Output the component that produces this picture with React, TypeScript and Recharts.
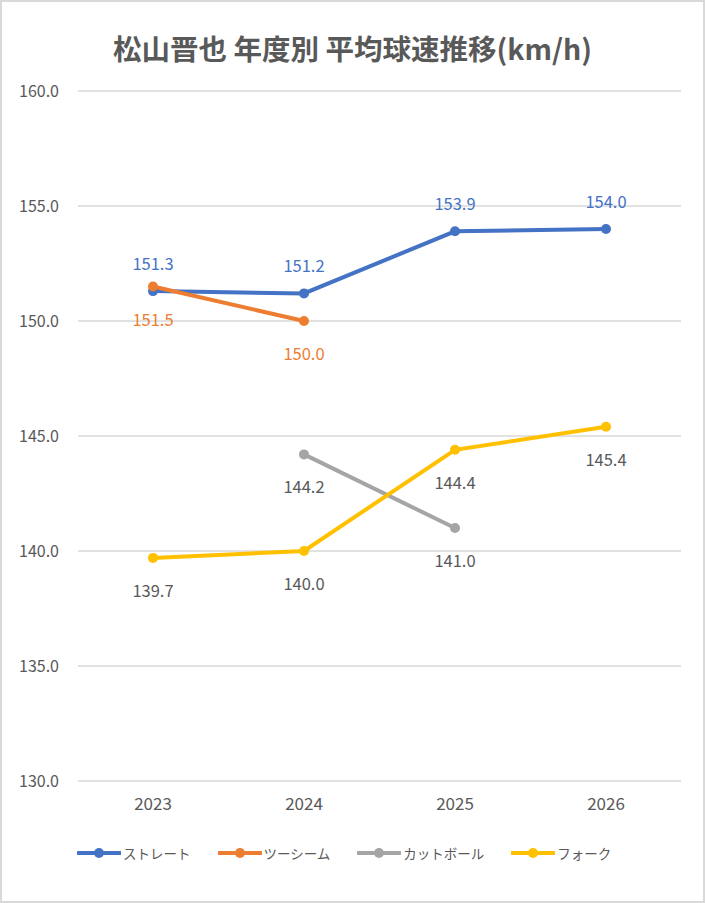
import React from "react";
import {
  LineChart,
  Line,
  XAxis,
  YAxis,
  CartesianGrid,
  LabelList,
  Legend,
} from "recharts";

const YEARS = ["2023", "2024", "2025", "2026"];
const STRAIGHT = [151.3, 151.2, 153.9, 154.0];
const TWO_SEAM = [151.5, 150.0, null, null];
const CUTTER = [null, 144.2, 141.0, null];
const FORK = [139.7, 140.0, 144.4, 145.4];
const Y_TICKS = [130, 135, 140, 145, 150, 155, 160];

const SERIES = [
  { key: "straight", name: "ストレート", color: "#4472C4", labelColor: "#4472C4", pos: "top" },
  { key: "twoSeam", name: "ツーシーム", color: "#ED7D31", labelColor: "#ED7D31", pos: "bottom" },
  { key: "cutter", name: "カットボール", color: "#A5A5A5", labelColor: "#595959", pos: "bottom" },
  { key: "fork", name: "フォーク", color: "#FFC000", labelColor: "#595959", pos: "bottom" },
];

const data = YEARS.map((year, i) => ({
  year,
  straight: STRAIGHT[i],
  twoSeam: TWO_SEAM[i],
  cutter: CUTTER[i],
  fork: FORK[i],
}));

const FONT = '"Noto Sans CJK JP", "Noto Sans", sans-serif';

function makeLabel(color: string, pos: string) {
  return (props: any) => {
    const { x, y, value } = props;
    if (value == null) return null;
    const ty = pos === "top" ? y - 28 : y + 32;
    return (
      <text
        x={x}
        y={ty}
        textAnchor="middle"
        dominantBaseline="central"
        fill={color}
        fontSize={16.5}
        fontFamily={FONT}
      >
        {Number(value).toFixed(1)}
      </text>
    );
  };
}

function LegendContent() {
  return (
    <div style={{ display: "flex", gap: 27, fontFamily: FONT, fontSize: 13.5, color: "#595959" }}>
      {SERIES.map((s) => (
        <div key={s.key} style={{ display: "flex", alignItems: "center" }}>
          <svg width={44} height={12}>
            <line x1={1} y1={6} x2={43} y2={6} stroke={s.color} strokeWidth={4} strokeLinecap="round" />
            <circle cx={22} cy={6} r={5} fill={s.color} />
          </svg>
          <span style={{ marginLeft: 2 }}>{s.name}</span>
        </div>
      ))}
    </div>
  );
}

export default function App() {
  return (
    <div
      style={{
        position: "fixed",
        top: 0,
        left: 0,
        width: 705,
        height: 903,
        boxSizing: "border-box",
        border: "2px solid #d9d9d9",
        background: "#fff",
        fontFamily: FONT,
      }}
    >
      <div
        style={{
          position: "absolute",
          top: 25,
          left: -2,
          width: 705,
          textAlign: "center",
          fontSize: 28.5,
          fontWeight: "bold",
          color: "#595959",
        }}
      >
        松山晋也 年度別 平均球速推移(km/h)
      </div>
      <div style={{ position: "absolute", top: -2, left: -2 }}>
        <LineChart
          width={705}
          height={903}
          data={data}
          margin={{ top: 91, right: 24, bottom: 82, left: 8 }}
        >
          <CartesianGrid vertical={false} stroke="#d9d9d9" strokeWidth={1.5} />
          <XAxis
            dataKey="year"
            axisLine={false}
            tickLine={false}
            tickSize={0}
            tickMargin={17}
            height={40}
            padding={{ left: 75, right: 75 }}
            tick={{ fill: "#595959", fontSize: 17, fontFamily: FONT }}
          />
          <YAxis
            domain={[130, 160]}
            ticks={Y_TICKS}
            width={70}
            axisLine={false}
            tickLine={false}
            tickSize={0}
            tickMargin={19}
            tickFormatter={(v: number) => v.toFixed(1)}
            tick={{ fill: "#595959", fontSize: 16, fontFamily: FONT }}
          />
          <Legend
            verticalAlign="middle"
            layout="horizontal"
            content={() => <LegendContent />}
            wrapperStyle={{ top: 843, left: 77, width: "auto" }}
          />
          {SERIES.map((s) => (
            <Line
              key={s.key}
              dataKey={s.key}
              name={s.name}
              stroke={s.color}
              strokeWidth={4}
              dot={{ r: 5, fill: s.color, stroke: s.color, strokeWidth: 0 }}
              activeDot={false}
              connectNulls={false}
              isAnimationActive={false}
            >
              <LabelList dataKey={s.key} content={makeLabel(s.labelColor, s.pos)} />
            </Line>
          ))}
        </LineChart>
      </div>
    </div>
  );
}
